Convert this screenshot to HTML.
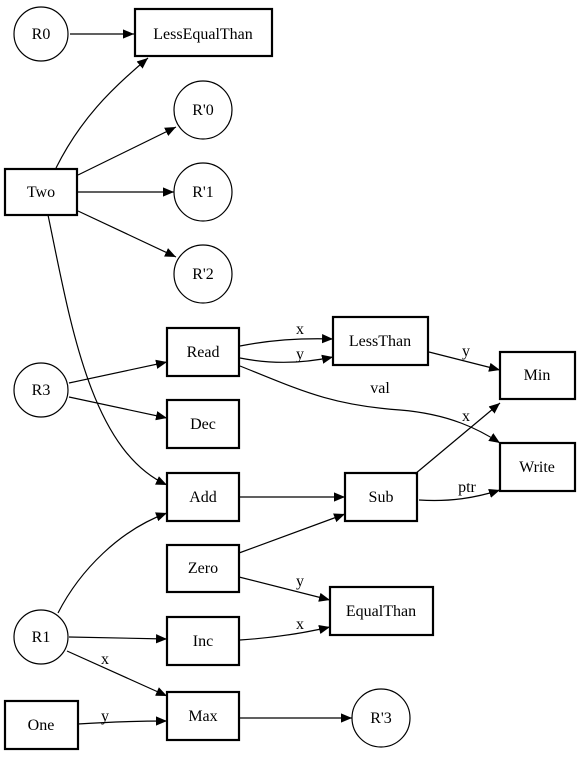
<!DOCTYPE html>
<html><head><meta charset="utf-8"><style>
body{margin:0;background:#fff}
text{font-family:"Liberation Serif","Times New Roman",serif;font-size:16px;text-anchor:middle}
</style></head><body>
<svg width="579" height="754" viewBox="0 0 579 754" xmlns="http://www.w3.org/2000/svg" font-family="Liberation Serif, serif" font-size="16">
<defs><marker id="a" viewBox="0 0 10 10" refX="10" refY="5" markerWidth="11" markerHeight="11" markerUnits="userSpaceOnUse" orient="auto"><path d="M0,0.8L10,5L0,9.2z" fill="#000"/></marker></defs>
<g fill="none" stroke="#000" stroke-width="1.2" marker-end="url(#a)">
<path d="M70,34H134"/>
<path d="M56,168C80,120 110,90 148,58"/>
<path d="M78,175L176,127"/>
<path d="M78,192H174"/>
<path d="M78,211L176,257"/>
<path d="M48,215C70,320 90,450 167,485"/>
<path d="M69,383L167,362"/>
<path d="M69,397L167,418"/>
<path d="M240,346C270,340 300,338 333,339"/>
<path d="M240,358C270,364 300,364 333,357"/>
<path d="M429,352L500,370"/>
<path d="M240,366C300,390 330,405 400,410C450,414 480,430 500,443"/>
<path d="M240,497H345"/>
<path d="M415,474L500,403"/>
<path d="M419,500C450,502 475,498 500,490"/>
<path d="M239,553L345,514"/>
<path d="M239,577L330,600"/>
<path d="M240,640C270,638 300,634 330,627"/>
<path d="M58,613C80,570 120,530 167,513"/>
<path d="M69,637L167,639"/>
<path d="M67,651L167,696"/>
<path d="M78,724C110,722 140,721 167,721"/>
<path d="M240,718H352"/>
</g>
<g fill="none" stroke="#000" stroke-width="2.2">
<rect x="135" y="9" width="137" height="47"/>
<rect x="5" y="169" width="72" height="46"/>
<rect x="167" y="328" width="72" height="48"/>
<rect x="167" y="400" width="72" height="48"/>
<rect x="167" y="473" width="72" height="48"/>
<rect x="333" y="317" width="95" height="48"/>
<rect x="500" y="352" width="75" height="47"/>
<rect x="500" y="443" width="75" height="48"/>
<rect x="345" y="473" width="72" height="48"/>
<rect x="167" y="545" width="72" height="47"/>
<rect x="330" y="587" width="103" height="48"/>
<rect x="167" y="617" width="72" height="48"/>
<rect x="167" y="692" width="72" height="48"/>
<rect x="5" y="701" width="73" height="48"/>
</g>
<g fill="none" stroke="#000" stroke-width="1.2">
<circle cx="41" cy="34" r="27"/>
<circle cx="203" cy="110" r="29"/>
<circle cx="203" cy="192" r="29"/>
<circle cx="203" cy="274" r="29"/>
<circle cx="41" cy="390" r="27"/>
<circle cx="41" cy="637" r="27"/>
<circle cx="381" cy="718" r="29"/>
</g>
<g>
<text x="41" y="39">R0</text>
<text x="203" y="39">LessEqualThan</text>
<text x="203" y="115">R'0</text>
<text x="203" y="197">R'1</text>
<text x="203" y="279">R'2</text>
<text x="41" y="197">Two</text>
<text x="41" y="395">R3</text>
<text x="203" y="357">Read</text>
<text x="203" y="429">Dec</text>
<text x="203" y="502">Add</text>
<text x="380" y="346">LessThan</text>
<text x="537" y="380">Min</text>
<text x="537" y="472">Write</text>
<text x="381" y="502">Sub</text>
<text x="203" y="573">Zero</text>
<text x="381" y="616">EqualThan</text>
<text x="203" y="646">Inc</text>
<text x="203" y="721">Max</text>
<text x="41" y="730">One</text>
<text x="41" y="642">R1</text>
<text x="381" y="723">R'3</text>
<text x="300" y="334">x</text>
<text x="300" y="359">y</text>
<text x="466" y="356">y</text>
<text x="380" y="393">val</text>
<text x="466" y="421">x</text>
<text x="467" y="492">ptr</text>
<text x="300" y="586">y</text>
<text x="300" y="629">x</text>
<text x="105" y="664">x</text>
<text x="105" y="721">y</text>
</g>
</svg>
</body></html>
